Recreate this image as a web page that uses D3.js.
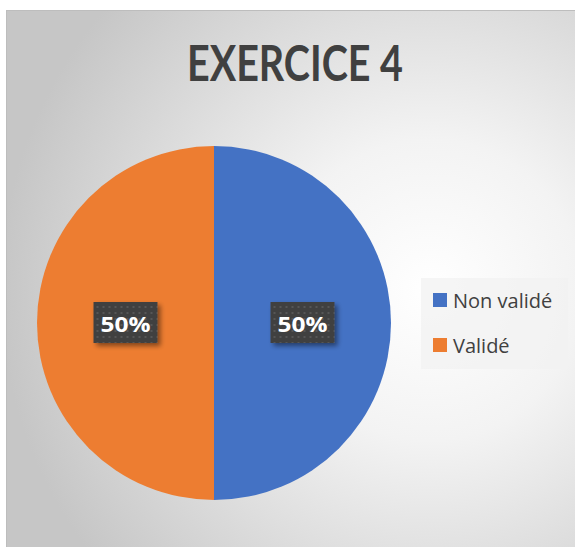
<!DOCTYPE html>
<html>
<head>
<meta charset="utf-8">
<script src="https://cdn.jsdelivr.net/npm/d3@7"></script>
<style>
  html, body { margin: 0; padding: 0; background: #ffffff; }
  svg { display: block; }
</style>
</head>
<body>
<svg id="chart" width="575" height="547"></svg>
<script>
// Chart data
const title = "EXERCICE 4";
const categories = ["Non validé", "Validé"];
const values = [50, 50];
const colors = ["#4472C4", "#ED7D31"];

const W = 575, H = 547;
const svg = d3.select("#chart");
const defs = svg.append("defs");

// Background gradient of the chart area
const bg = defs.append("radialGradient")
  .attr("id", "bgGrad")
  .attr("gradientUnits", "userSpaceOnUse")
  .attr("cx", 430).attr("cy", 290).attr("r", 430);
bg.append("stop").attr("offset", "0").attr("stop-color", "#ffffff");
bg.append("stop").attr("offset", "0.35").attr("stop-color", "#f3f3f3");
bg.append("stop").attr("offset", "1").attr("stop-color", "#c6c6c6");

// Dotted dark fill for the data labels
const pat = defs.append("pattern")
  .attr("id", "dots")
  .attr("patternUnits", "userSpaceOnUse")
  .attr("width", 6).attr("height", 6);
pat.append("rect").attr("width", 6).attr("height", 6).attr("fill", "#3f3f3f");
pat.append("rect").attr("x", 1).attr("y", 1).attr("width", 2).attr("height", 2).attr("fill", "#575757");

// Soft shadow behind the data labels
const sh = defs.append("filter").attr("id", "shadow")
  .attr("x", "-30%").attr("y", "-30%").attr("width", "170%").attr("height", "170%");
sh.append("feGaussianBlur").attr("in", "SourceAlpha").attr("stdDeviation", 2.5).attr("result", "b");
sh.append("feOffset").attr("in", "b").attr("dx", 3).attr("dy", 3).attr("result", "o");
sh.append("feComponentTransfer").attr("in", "o").attr("result", "s")
  .append("feFuncA").attr("type", "linear").attr("slope", 0.45);
const merge = sh.append("feMerge");
merge.append("feMergeNode").attr("in", "s");
merge.append("feMergeNode").attr("in", "SourceGraphic");

// Chart area
svg.append("rect")
  .attr("x", 6.5).attr("y", 10.5)
  .attr("width", W).attr("height", H)
  .attr("fill", "url(#bgGrad)")
  .attr("stroke", "#bdbdbd").attr("stroke-width", 1);

// Title
svg.append("text")
  .attr("x", 295).attr("y", 81)
  .attr("text-anchor", "middle")
  .attr("font-family", "Lato, 'Open Sans', sans-serif")
  .attr("font-weight", "bold")
  .attr("font-size", 50)
  .attr("fill", "#404040")
  .attr("textLength", 216)
  .attr("lengthAdjust", "spacingAndGlyphs")
  .text(title);

// Pie
const cx = 214, cy = 323, radius = 177;
const pie = d3.pie().sort(null).value(d => d)(values);
const arc = d3.arc().innerRadius(0).outerRadius(radius);
const labelArc = d3.arc().innerRadius(radius * 0.5).outerRadius(radius * 0.5);
const total = d3.sum(values);

const g = svg.append("g").attr("transform", `translate(${cx},${cy})`);
g.selectAll("path.slice")
  .data(pie)
  .join("path")
  .attr("class", "slice")
  .attr("d", arc)
  .attr("fill", (d, i) => colors[i])
  .attr("stroke", "none");

// Data labels
const lbl = g.selectAll("g.label")
  .data(pie)
  .join("g")
  .attr("class", "label")
  .attr("transform", d => {
    const [x, y] = labelArc.centroid(d);
    return `translate(${x},${y})`;
  });
lbl.append("rect")
  .attr("x", -32).attr("y", -21)
  .attr("width", 64).attr("height", 41)
  .attr("fill", "url(#dots)")
  .attr("filter", "url(#shadow)");
lbl.append("text")
  .attr("text-anchor", "middle")
  .attr("y", 9)
  .attr("font-family", "'Open Sans', sans-serif")
  .attr("font-weight", "bold")
  .attr("font-size", 22)
  .attr("fill", "#ffffff")
  .attr("textLength", 50)
  .attr("lengthAdjust", "spacingAndGlyphs")
  .text(d => Math.round(d.data / total * 100) + "%");

// Legend
const legend = svg.append("g");
legend.append("rect")
  .attr("x", 421).attr("y", 278)
  .attr("width", 147).attr("height", 91)
  .attr("fill", "#f2f2f2").attr("fill-opacity", 0.75);
const items = legend.selectAll("g.item")
  .data(categories)
  .join("g")
  .attr("class", "item")
  .attr("transform", (d, i) => `translate(433,${293 + i * 45})`);
items.append("rect")
  .attr("width", 14).attr("height", 14)
  .attr("fill", (d, i) => colors[i]);
items.append("text")
  .attr("x", 20).attr("y", 14.5)
  .attr("font-family", "'Open Sans', sans-serif")
  .attr("font-size", 20)
  .attr("fill", "#404040")
  .text(d => d);
</script>
</body>
</html>
